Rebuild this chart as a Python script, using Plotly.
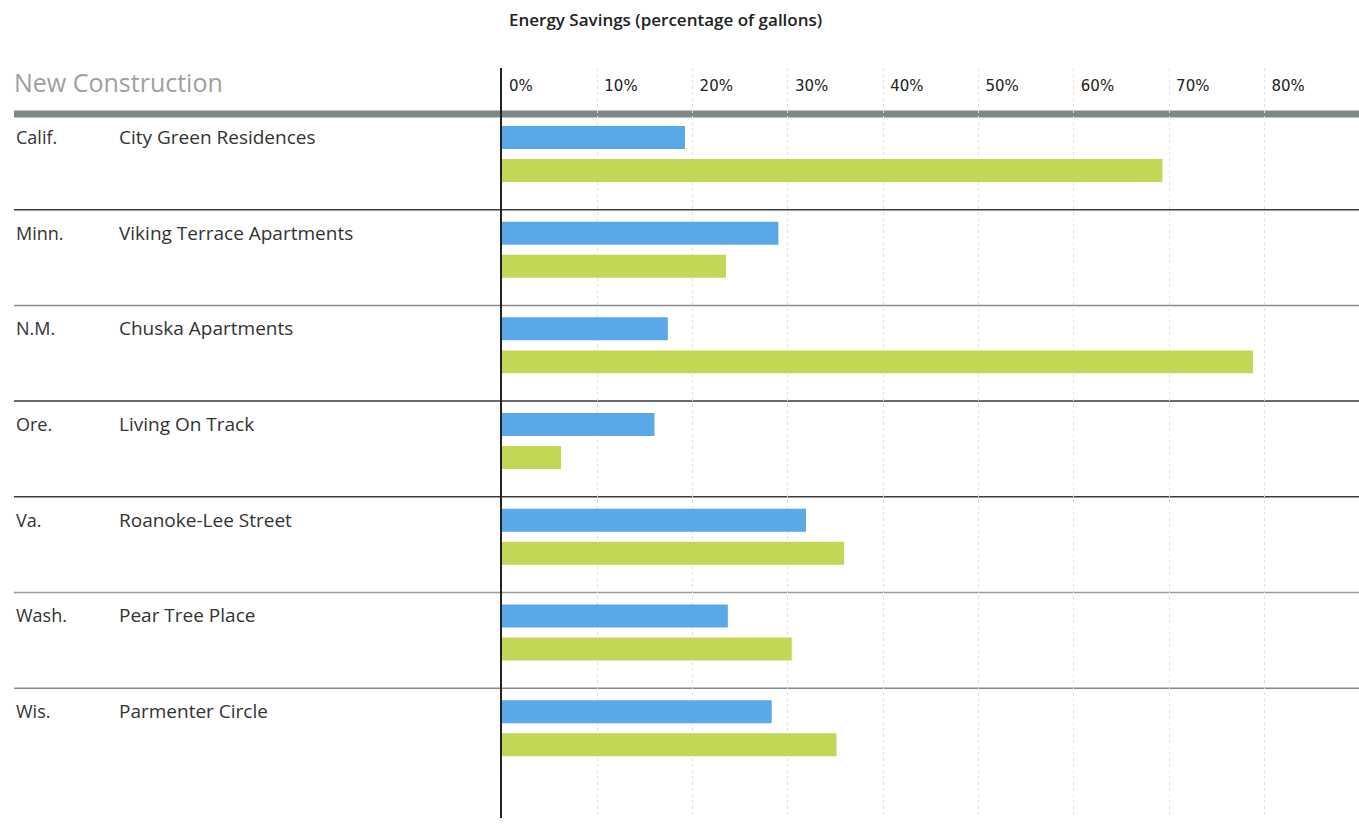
import plotly.graph_objects as go

states = ["Calif.", "Minn.", "N.M.", "Ore.", "Va.", "Wash.", "Wis."]
projects = ["City Green Residences", "Viking Terrace Apartments", "Chuska Apartments",
            "Living On Track", "Roanoke-Lee Street", "Pear Tree Place", "Parmenter Circle"]
blue_vals = [19.2, 29.0, 17.4, 16.0, 31.9, 23.7, 28.3]
green_vals = [69.3, 23.5, 78.8, 6.2, 35.9, 30.4, 35.1]
tick_vals = [0, 10, 20, 30, 40, 50, 60, 70, 80]
tick_text = ["0%", "10%", "20%", "30%", "40%", "50%", "60%", "70%", "80%"]
sep_colors = ["#3a3a3a", "#8a8a8a", "#3a3a3a", "#3a3a3a", "#9a9a9a", "#8a8a8a"]

W, H = 1359, 830
PLOT_TOP, PLOT_BOT = 68, 818
ROW_TOP0, PITCH = 114, 95.7
X_LEFT = 502

n = len(states)
blue_y = [i + 0.245 for i in range(n)]
green_y = [i + 0.59 for i in range(n)]

fig = go.Figure()
fig.add_trace(go.Bar(x=blue_vals, y=blue_y, orientation="h", width=0.24,
                     marker=dict(color="#5aa8e8", line_width=0), name="blue"))
fig.add_trace(go.Bar(x=green_vals, y=green_y, orientation="h", width=0.24,
                     marker=dict(color="#c4d655", line_width=0), name="green"))

y_top = -(ROW_TOP0 - PLOT_TOP) / PITCH
y_bot = (PLOT_BOT - ROW_TOP0) / PITCH

shapes = []
shapes.append(dict(type="line", xref="paper", yref="y", x0=14 / W, x1=1.0, y0=0, y1=0,
                   line=dict(color="#7d8787", width=7), layer="below"))
for i in range(1, n):
    shapes.append(dict(type="line", xref="paper", yref="y", x0=14 / W, x1=1.0, y0=i, y1=i,
                       line=dict(color=sep_colors[i - 1], width=1.5), layer="below"))

annotations = []
for i in range(n):
    annotations.append(dict(text=states[i], xref="paper", yref="y", x=14 / W, y=i + 0.24,
                            xanchor="left", yanchor="middle", showarrow=False,
                            font=dict(family="Open Sans", size=18, color="#333333")))
    annotations.append(dict(text=projects[i], xref="paper", yref="y", x=117 / W, y=i + 0.24,
                            xanchor="left", yanchor="middle", showarrow=False,
                            font=dict(family="Open Sans", size=19, color="#333333")))
annotations.append(dict(text="New Construction", xref="paper", yref="y", x=12 / W, y=-0.33,
                        xanchor="left", yanchor="middle", showarrow=False,
                        font=dict(family="Open Sans", size=25, color="#a0a0a0")))
annotations.append(dict(text="Energy Savings (percentage of gallons)", xref="paper", yref="paper",
                        x=665 / W, y=(PLOT_BOT - 19) / (PLOT_BOT - PLOT_TOP),
                        xanchor="center", yanchor="middle", showarrow=False,
                        font=dict(family="Open Sans", size=17, color="#222222", weight=600)))

fig.update_layout(
    width=W, height=H,
    margin=dict(l=0, r=0, t=PLOT_TOP, b=H - PLOT_BOT, pad=0),
    paper_bgcolor="white", plot_bgcolor="white",
    showlegend=False, barmode="overlay",
    shapes=shapes, annotations=annotations,
    xaxis=dict(domain=[X_LEFT / W, 1.0], range=[0, (W - X_LEFT) / 95.3 * 10],
               side="top", tickvals=tick_vals, ticktext=tick_text,
               ticklabelposition="inside right", ticks="",
               ticklabelstandoff=6, ticklabelshift=7,
               tickfont=dict(family="DejaVu Sans", size=15, color="#222222"),
               showgrid=True, gridcolor="#e0e0e0", griddash="dot", gridwidth=1,
               zeroline=False, showline=False, fixedrange=True),
    yaxis=dict(range=[y_bot, y_top], showticklabels=False, showgrid=False, zeroline=False,
               showline=True, linecolor="#222222", linewidth=2, ticks="", fixedrange=True),
)

fig.write_html("out.html")
